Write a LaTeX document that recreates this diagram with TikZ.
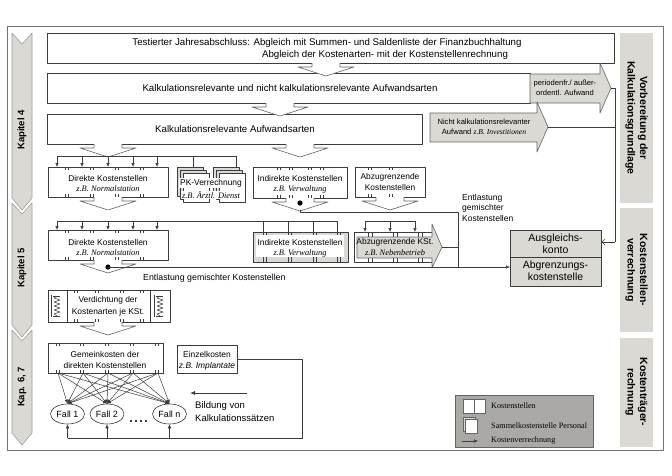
\documentclass[tikz,border=0pt]{standalone}
\usepackage{fontspec}
\setmainfont{Liberation Sans}
\newfontfamily\tnr{Liberation Serif}
\usetikzlibrary{arrows.meta,calc,shapes.geometric}
\definecolor{lgray}{RGB}{218,217,212}
\definecolor{mgray}{RGB}{170,169,165}
\definecolor{lcol}{RGB}{60,60,60}
\definecolor{acol}{RGB}{100,100,100}
\newcommand{\zb}[1]{{\tnr\itshape #1}}
\newcommand{\boxticks}[3]{\foreach \tx in {#1}{\draw[tick] (\tx,#2) -- ++(0,3); \draw[tick] (\tx,#3) -- ++(0,-3);}}
\begin{document}
\begin{tikzpicture}[x=1pt,y=-1pt,line join=round,
  box/.style={draw=lcol,line width=0.6pt,fill=white,inner sep=0pt,anchor=north west},
  gbox/.style={box,fill=lgray},
  lbl/.style={inner sep=0pt,font=\fontsize{8.4}{10.5}\selectfont,align=center},
  big/.style={inner sep=0pt,font=\fontsize{9.7}{11.5}\selectfont},
  sm/.style={inner sep=0pt,font=\fontsize{7.6}{9.5}\selectfont,align=center},
  harrow/.style={draw=acol,line width=0.6pt,fill=white},
  conn/.style={draw=lcol,line width=0.6pt},
  arr/.style={conn,-{Latex[length=4pt,width=3.5pt]}},
  tick/.style={draw=lcol,line width=0.5pt},
  side/.style={inner sep=0pt,font=\bfseries\fontsize{10.5}{12.5}\selectfont,align=center,rotate=-90},
  chap/.style={inner sep=0pt,font=\bfseries\fontsize{9.5}{11}\selectfont,rotate=90},
  fall/.style={draw=lcol,line width=0.6pt,ellipse,minimum width=34,minimum height=20,inner sep=0pt,font=\fontsize{9}{11}\selectfont},
  legt/.style={inner sep=0pt,anchor=west,font=\tnr\fontsize{8.2}{10}\selectfont},
  hdown/.pic={\path[harrow] (-14,0) -- (-14,4) -- (-28,4) -- (0,13) -- (28,4) -- (14,4) -- (14,0);}
]
\useasboundingbox (0,0) rectangle (672,475);
\fill[white] (0,0) rectangle (672,475);
% frame
\draw[draw=black!55,line width=0.8pt] (7,26) rectangle (663,450);

% chapter arrows
\foreach \ta/\tb in {33/210,203/337,330/445}{
  \draw[fill=lgray,draw=gray!75,line width=0.6pt] (12,\ta) -- (22,\ta+11) -- (32,\ta) -- (32,\tb-12) -- (22,\tb) -- (12,\tb-12) -- cycle;}
\node[chap] (K4) at (22,130) {Kapitel 4};
\node[chap] (K5) at (22,268) {Kapitel 5};
\node[chap] (K6) at (22,387) {Kap. 6, 7};

% right labels
\fill[lgray] (620,33) rectangle (653,203);
\fill[lgray] (620,208) rectangle (653,332);
\fill[lgray] (620,338) rectangle (653,447);
\node[side] (S1) at (636.5,118) {Vorbereitung der\\Kalkulationsgrundlage};
\node[side] (S2) at (636.5,270) {Kostenstellen-\\verrechnung};
\node[side] (S3) at (636.5,392) {Kostenträger-\\rechnung};

% top boxes
\node[box,minimum width=567,minimum height=30] (T1) at (47,33) {};
\node[big] (T1a) at (327,43) {Testierter Jahresabschluss: Abgleich mit Summen- und Saldenliste der Finanzbuchhaltung};
\node[big] (T1b) at (385,55) {Abgleich der Kostenarten- mit der Kostenstellenrechnung};
\node[box,minimum width=483,minimum height=30] (T2) at (47,73) {};
\node[big] (T2a) at (290,88) {Kalkulationsrelevante und nicht kalkulationsrelevante Aufwandsarten};
\node[box,minimum width=375,minimum height=30] (T3) at (47,114) {};
\node[big] (T3a) at (235,129) {Kalkulationsrelevante Aufwandsarten};

\pic at (326,63) {hdown};
\pic at (280,103) {hdown};
\pic at (108,144) {hdown};
\pic at (300,144) {hdown};

% gray side arrows
\draw[fill=lgray,draw=acol,line width=0.6pt] (530,74) -- (600,74) -- (600,63) -- (611,88) -- (600,113) -- (600,103) -- (530,103) -- cycle;
\node[sm] (P1) at (565,88) {periodenfr./ außer-\\ordentl. Aufwand};
\coordinate (p1tip) at (611,88);
\draw[fill=lgray,draw=acol,line width=0.6pt] (430,113) -- (537,113) -- (537,102) -- (548,127) -- (537,152) -- (537,142) -- (430,142) -- cycle;
\node[sm] (P2) at (484,127) {Nicht kalkulationsrelevanter\\Aufwand \zb{z.B. Investitionen}};
\coordinate (p2tip) at (548,127);

% Ausgleichskonto
\node[gbox,minimum width=91,minimum height=56] (AK) at (510,230) {};
\draw[conn] (510,257) -- (601,257);
\node[inner sep=0pt,align=center,font=\fontsize{10.5}{12}\selectfont] (AKa) at (555.5,243.5) {Ausgleichs-\\konto};
\node[inner sep=0pt,align=center,font=\fontsize{10.5}{12}\selectfont] (AKb) at (555.5,271) {Abgrenzungs-\\kostenstelle};
\draw[conn] (p1tip) -- (615,88) -- (615,242);
\draw[conn] (p2tip) -- (615,127);
\draw[conn,-{Straight Barb[length=3pt,width=6pt]}] (615,242) -- (AK.east |- 0,242);

% ---- row 1
\draw[conn] (57,156) -- (236,156);
\foreach \tx in {57,82,108,133,157}{\draw[arr] (\tx,156) -- (\tx,167);}
\node[box,minimum width=120,minimum height=30] (D1) at (48,167) {};
\boxticks{65,68,90,93,115,118,140,143}{167}{197}
\node[lbl] (D1a) at (108,178) {Direkte Kostenstellen};
\node[lbl] (D1b) at (108,189) {\zb{z.B. Normalstation}};
\pic at (108,197) {hdown};

% PK stacks
\foreach \sx in {177,213}{
  \draw[fill=lgray,draw=lcol,line width=0.5pt] (\sx,167) rectangle ++(26,29);
  \draw[fill=lgray,draw=lcol,line width=0.5pt] (\sx+3,170) rectangle ++(26,29);
  \draw[fill=white,draw=lcol,line width=0.5pt] (\sx+6,173) rectangle ++(26,29);}
\draw[conn] (193,156) -- (193,167);
\draw[conn] (236,156) -- (236,167);
\node[lbl,fill=white,inner sep=0.8pt] (PK) at (211,183) {PK-Verrechnung};
\node[lbl,fill=white,inner sep=0.8pt] (PKb) at (211,195) {\zb{z.B. Ärztl. Dienst}};

% Indirekte 1
\node[box,minimum width=94,minimum height=31] (I1) at (253,167) {};
\boxticks{277,280,289,292,308,311,320,323}{167}{198}
\node[lbl] (I1a) at (300,178) {Indirekte Kostenstellen};
\node[lbl] (I1b) at (300,189) {\zb{z.B. Verwaltung}};
\pic at (300,198) {hdown};
\fill (300,203) circle (2.6);

% Abzugrenzende 1
\node[box,minimum width=70,minimum height=30] (A1) at (355,167) {};
\boxticks{368,371,389,392}{167}{197}
\node[lbl] (A1a) at (390,182) {Abzugrenzende\\Kostenstellen};
\pic at (390,197) {hdown};

% Entlastung (upper)
\node[lbl,align=left,anchor=north west,font=\fontsize{8.5}{10.5}\selectfont] (E1) at (462,194) {Entlastung\\gemischter\\Kostenstellen};

% ---- row 2
\draw[conn] (57,221) -- (337,221);
\foreach \tx in {57,82,108,133,157}{\draw[arr] (\tx,221) -- (\tx,230);}
\node[box,minimum width=120,minimum height=30] (D2) at (48,230) {};
\boxticks{65,68,90,93,115,118,140,143}{230}{260}
\node[lbl] (D2a) at (108,242) {Direkte Kostenstellen};
\node[lbl] (D2b) at (108,253) {\zb{z.B. Normalstation}};
\pic at (108,260) {hdown};
\fill (108,267) circle (2.6);

% Indirekte 2
\node[gbox,minimum width=95,minimum height=30] (I2) at (253,232) {};
\foreach \tx in {263,288,313,337}{\draw[conn] (\tx,221) -- (\tx,262);}
\foreach \tx in {266,291,316,340}{\draw[tick] (\tx,232) -- (\tx,262);}
\fill[white] (256,235) rectangle (344,257);
\node[lbl] (I2a) at (300,242) {Indirekte Kostenstellen};
\node[lbl] (I2b) at (300,253) {\zb{z.B. Verwaltung}};

% Abzugrenzende 2
\draw[conn] (365,221) -- (415,221);
\foreach \tx in {365,390,415}{\draw[arr] (\tx,221) -- (\tx,232);}
\node[box,minimum width=78,minimum height=30] (A2) at (354,232) {};
\foreach \tx in {368,372,393,397,418,422}{\draw[tick] (\tx,232) -- (\tx,262);}
\draw[fill=lgray,draw=acol,line width=0.6pt] (357,237) -- (432,237) -- (432,224) -- (442,247) -- (432,268) -- (432,258) -- (357,258) -- cycle;
\node[lbl] (A2a) at (395,242) {Abzugrenzende KSt.};
\node[lbl] (A2b) at (395,253) {\zb{z.B. Nebenbetrieb}};

% connectors to Ausgleich
\draw[conn] (300,210) -- (300,212) -- (458,212) -- (458,268);
\draw[conn] (442,247) -- (458,247);
\draw[arr] (108,267) -- (AK.west |- 0,267);
\node[lbl,anchor=west,font=\fontsize{8.8}{10.5}\selectfont] (E2) at (143,278) {Entlastung gemischter Kostenstellen};

% ---- row 3 Verdichtung
\node[box,minimum width=122,minimum height=32] (V) at (48,290) {};
\draw[conn] (67,290) -- (67,322);
\draw[conn] (150,290) -- (150,322);
\boxticks{74,77,95,98,120,123,140,143}{290}{322}
\foreach \zx in {57,160}{
  \draw[tick] (\zx-6,295) -- (\zx-6,317);
  \draw[tick] (\zx-4,296) -- (\zx+3,296);
  \draw[tick] (\zx-4,316) -- (\zx+3,316);
  \draw[tick] (\zx,296) -- (\zx-3,298) -- (\zx+3,300) -- (\zx-3,302) -- (\zx+3,304) -- (\zx-3,306) -- (\zx+3,308) -- (\zx-3,310) -- (\zx+3,312) -- (\zx-3,314) -- (\zx,316);}
\node[lbl] (Va) at (108,300) {Verdichtung der};
\node[lbl] (Vb) at (108,312) {Kostenarten je KSt.};
\pic at (108,322) {hdown};

% ---- row 4
\node[box,minimum width=115,minimum height=30] (G) at (48,343) {};
\boxticks{56,59,80,83,105,108,130,133,155,158}{343}{373}
\node[lbl] (Ga) at (105,354) {Gemeinkosten der};
\node[lbl] (Gb) at (105,365) {direkten Kostenstellen};
\node[box,minimum width=60,minimum height=28] (EK) at (177,345) {};
\node[lbl] (EKa) at (207,354) {Einzelkosten};
\node[lbl] (EKb) at (207,366) {\itshape z.B. Implantate};

\node[fall] (F1) at (67.5,414) {Fall 1};
\node[fall] (F2) at (107,414) {Fall 2};
\node[fall] (Fn) at (169.5,414) {Fall n};
\foreach \dx in {131,136,141,146}{\fill (\dx,421) circle (1.1);}
\foreach \sx in {58,83,108,133,158}{
  \foreach \f in {F1,F2,Fn}{\draw[conn,line width=0.5pt,-{Latex[length=4pt,width=3.5pt]}] (\sx,373) -- (\f.north);}}
\draw[conn] (EK.east |- 0,359) -- (302,359) -- (302,438) -- (67.5,438);
\foreach \f in {F1,F2,Fn}{\draw[arr] (\f.south |- 0,438) -- (\f.south);}
\draw[conn,line width=0.8pt,-{Latex[length=5pt,width=4pt]}] (247,393) -- (190,393);
\node[inner sep=0pt,anchor=west,align=left,font=\fontsize{9.5}{13}\selectfont] (BK) at (195,412) {Bildung von\\Kalkulationssätzen};

% legend
\node[draw=acol,line width=0.6pt,fill=mgray,minimum width=138,minimum height=52,anchor=north west,inner sep=0pt] (L) at (455,395) {};
\draw[draw=acol,fill=white,line width=0.5pt] (463,399) rectangle (474,413);
\draw[draw=acol,fill=white,line width=0.5pt] (474,399) rectangle (485,413);
\draw[draw=acol,fill=lgray,line width=0.5pt] (463,417) rectangle (475,431);
\draw[draw=acol,fill=white,line width=0.5pt] (465,419) rectangle (477,433);
\draw[conn,-{Latex[length=4pt,width=3.5pt]}] (462,441) -- (478,441);
\node[legt] (L1) at (491,406) {Kostenstellen};
\node[legt] (L2) at (491,426) {Sammelkostenstelle Personal};
\node[legt] (L3) at (491,441) {Kostenverrechnung};
\end{tikzpicture}
\end{document}
